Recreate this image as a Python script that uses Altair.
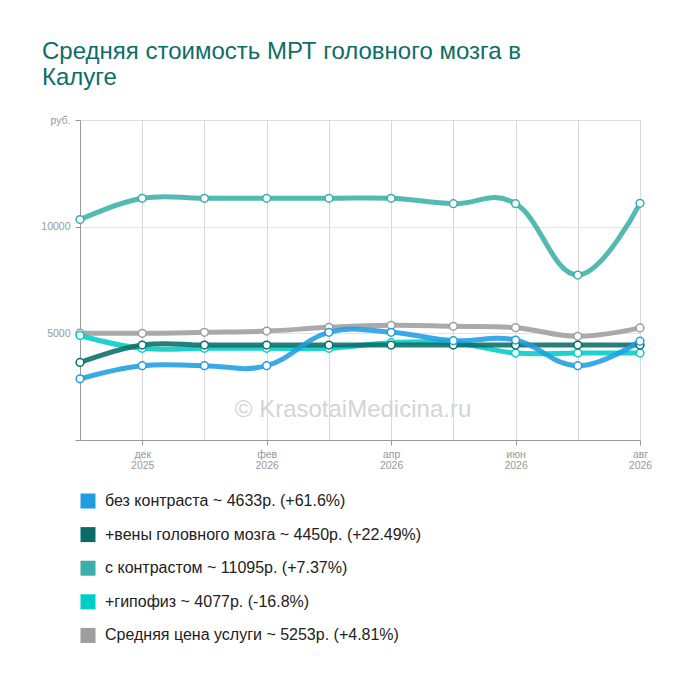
import altair as alt
import pandas as pd

months = ["ноя 2025", "дек 2025", "янв 2026", "фев 2026", "мар 2026",
          "апр 2026", "май 2026", "июн 2026", "июл 2026", "авг 2026"]
shown_months = ["дек 2025", "фев 2026", "апр 2026", "июн 2026", "авг 2026"]

series_labels = [
    "без контраста ~ 4633р. (+61.6%)",
    "+вены головного мозга ~ 4450р. (+22.49%)",
    "с контрастом ~ 11095р. (+7.37%)",
    "+гипофиз ~ 4077р. (-16.8%)",
    "Средняя цена услуги ~ 5253р. (+4.81%)",
]
series_colors = ["#1f9de1", "#0a6c67", "#3aafa9", "#00ccc6", "#9e9e9e"]

bez_kontrasta = [2867, 3484, 3484, 3484, 5047, 5047, 4656, 4687, 3484, 4633]
veny = [3633, 4450, 4450, 4450, 4450, 4450, 4450, 4450, 4450, 4450]
s_kontrastom = [10333, 11328, 11328, 11328, 11328, 11328, 11078, 11078, 7734, 11095]
gipofiz = [4900, 4297, 4297, 4297, 4297, 4562, 4562, 4077, 4077, 4077]
srednyaya = [5012, 5000, 5047, 5109, 5281, 5375, 5328, 5266, 4859, 5253]

all_values = [bez_kontrasta, veny, s_kontrastom, gipofiz, srednyaya]
draw_order = [4, 2, 3, 1, 0]

rows = []
for order, idx in enumerate(draw_order):
    for m, v in zip(months, all_values[idx]):
        rows.append({"month": m, "value": v, "series": series_labels[idx],
                     "legend_series": series_labels[idx], "order": order})
df = pd.DataFrame(rows)

shown_js = "[" + ",".join("'" + s + "'" for s in shown_months) + "]"

x_enc = alt.X(
    "month:O",
    sort=months,
    scale=alt.Scale(type="point", padding=0),
    axis=alt.Axis(
        title=None,
        labelAngle=0,
        labelExpr=f"indexof({shown_js}, datum.value) >= 0 ? split(datum.value, ' ') : ''",
        labelColor="#999999",
        labelFontSize=10.5,
        labelLineHeight=11,
        labelPadding=4,
        labelFont="Liberation Sans",
        tickColor="#999999",
        tickSize=5,
        tickOpacity={"condition": {"test": f"indexof({shown_js}, datum.value) >= 0", "value": 1}, "value": 0},
        domainColor="#999999",
        grid=True,
        gridColor="#d9d9d9",
        gridOpacity={"condition": {"test": "datum.value == 'ноя 2025'", "value": 0}, "value": 1},
    ),
)

y_enc = alt.Y(
    "value:Q",
    scale=alt.Scale(domain=[0, 15000], nice=False),
    axis=alt.Axis(
        title=None,
        values=[0, 5000, 10000, 15000],
        format="d",
        labelExpr="datum.value == 15000 ? 'руб.' : (datum.value == 0 ? '' : datum.label)",
        labelColor="#999999",
        labelFontSize=10.5,
        labelFont="Liberation Sans",
        labelPadding=5,
        tickColor="#999999",
        tickSize=5,
        domainColor="#999999",
        grid=True,
        gridColor="#e3e3e3",
        gridOpacity={"condition": {"test": "datum.value == 15000 || datum.value == 0", "value": 0}, "value": 1},
    ),
)

color_scale = alt.Scale(domain=series_labels, range=series_colors)

base = alt.Chart(df)

lines = base.mark_line(interpolate="cardinal", tension=-0.2, strokeWidth=5, opacity=0.88).encode(
    x=x_enc,
    y=y_enc,
    stroke=alt.Stroke("series:N", scale=color_scale, legend=None),
    order=alt.Order("order:Q"),
    detail="series:N",
)

points = base.mark_point(filled=False, fill="white", size=60, strokeWidth=1.5, opacity=1).encode(
    x=alt.X("month:O", sort=months),
    y="value:Q",
    stroke=alt.Stroke("series:N", scale=color_scale, legend=None),
)

legend_layer = base.mark_square(size=0).encode(
    x=alt.X("month:O", sort=months),
    y="value:Q",
    fill=alt.Fill(
        "legend_series:N",
        sort=series_labels,
        scale=alt.Scale(range=series_colors),
        legend=alt.Legend(
            title=None,
            orient="none",
            legendX=0,
            legendY=373,
            direction="vertical",
            symbolType="square",
            symbolSize=225,
            symbolStrokeWidth=0,
            symbolOpacity=1,
            labelFontSize=16,
            labelFont="Liberation Sans",
            labelColor="#222222",
            labelOffset=9,
            rowPadding=17.6,
            padding=0,
            labelLimit=600,
        ),
    ),
)

watermark = alt.Chart(pd.DataFrame({"t": ["© KrasotaiMedicina.ru"]})).mark_text(
    fontSize=24, font="Liberation Sans", color="#d4d4d4", align="center", baseline="middle"
).encode(text="t:N", x=alt.value(273), y=alt.value(290))

chart = alt.layer(watermark, lines, points, legend_layer).properties(
    width=560,
    height=320,
    title=alt.TitleParams(
        text=["Средняя стоимость МРТ головного мозга в", "Калуге"],
        anchor="start",
        frame="group",
        dx=-38,
        offset=25,
        fontSize=24,
        font="Liberation Sans",
        fontWeight="normal",
        color="#0d6d68",
        lineHeight=26,
    ),
    autosize=alt.AutoSizeParams(type="none"),
    padding={"left": 72, "top": 112, "right": 40, "bottom": 240},
).configure_view(stroke=None).configure(background="white")

chart.save("out.html", embed_options={"renderer": "svg", "actions": False})
